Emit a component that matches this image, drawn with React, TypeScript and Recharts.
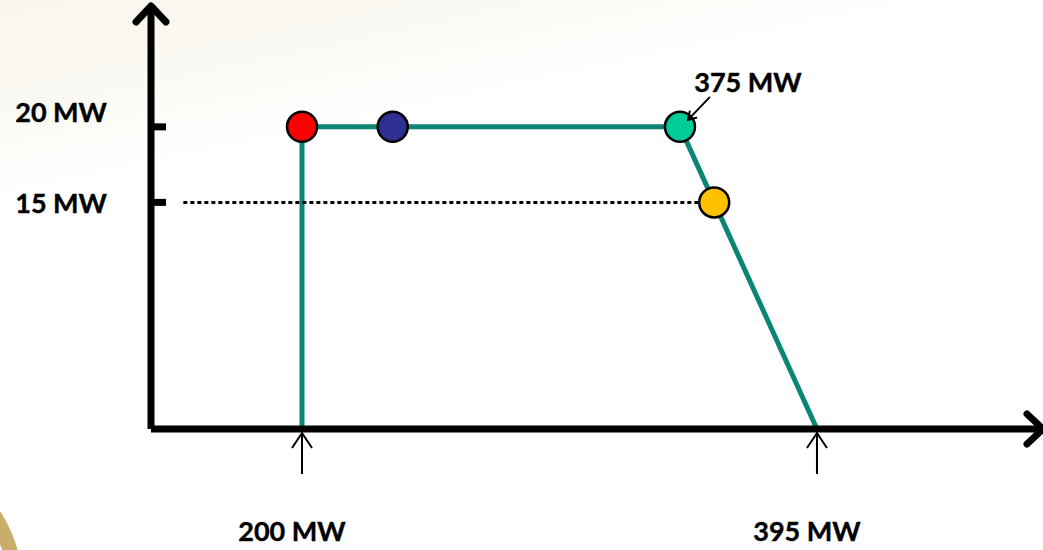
import React from 'react'
import {
  ComposedChart,
  Line,
  Scatter,
  Cell,
  XAxis,
  YAxis,
  ReferenceDot,
} from 'recharts'

// unit output (MW) vs. active power (MW)
const capabilityMW = [200, 200, 375, 395]
const capabilityP = [0, 20, 20, 0]

const reserveMW = [145, 380]
const reserveP = [15, 15]

const pointMW = [200, 242, 375, 380]
const pointP = [20, 20, 20, 15]
const pointColors = ['#ff0000', '#2e3092', '#00cc99', '#ffc000']

const xTicks = [200, 395]
const xTickLabels = ['200 MW', '395 MW']
const yTicks = [15, 20]
const yTickLabels = ['15 MW', '20 MW']

const calloutMW = 375
const calloutP = 20
const calloutText = '375 MW'

const GREEN = '#0b8574'
const FONT = 'Lato, "Open Sans", sans-serif'

const capability = capabilityMW.map((mw, i) => ({ mw, p: capabilityP[i] }))
const reserve = reserveMW.map((mw, i) => ({ mw, p: reserveP[i] }))
const points = pointMW.map((mw, i) => ({ mw, p: pointP[i] }))

// The diagram is not drawn to scale: the MW axis is stretched piecewise
// between its break values so the ramp-down segment stays readable.
const xBreaks = [130, 200, 375, 395, 428]
const xStops = [0, 0.1693, 0.593, 0.7466, 1]

function schematicScale(): any {
  let dom = [xBreaks[0], xBreaks[xBreaks.length - 1]]
  let rng = [0, 1]
  const s: any = (v: number) => {
    let i = 0
    while (i < xBreaks.length - 2 && v > xBreaks[i + 1]) i++
    const t = (v - xBreaks[i]) / (xBreaks[i + 1] - xBreaks[i])
    const f = xStops[i] + t * (xStops[i + 1] - xStops[i])
    return rng[0] + f * (rng[1] - rng[0])
  }
  s.domain = (d?: number[]) => {
    if (!d) return dom.slice()
    dom = [...d]
    return s
  }
  s.range = (r?: number[]) => {
    if (!r) return rng.slice()
    rng = [...r]
    return s
  }
  s.invert = (px: number) => {
    const f = (px - rng[0]) / (rng[1] - rng[0])
    let i = 0
    while (i < xStops.length - 2 && f > xStops[i + 1]) i++
    const t = (f - xStops[i]) / (xStops[i + 1] - xStops[i])
    return xBreaks[i] + t * (xBreaks[i + 1] - xBreaks[i])
  }
  s.ticks = () => xBreaks.slice(1, -1)
  s.tickFormat = () => (v: number) => String(v)
  s.nice = () => s
  s.clamp = () => s
  s.copy = () => schematicScale().domain(dom).range(rng)
  return s
}

const labelStyle = {
  fontFamily: FONT,
  fontWeight: 700,
  fontSize: 27,
  fill: '#000',
  stroke: '#000',
  strokeWidth: 0.4,
}

const YTick = ({ x, y, payload }: any) => {
  const i = yTicks.indexOf(payload.value)
  const dy = payload.value === 20 ? -15 : 0
  return (
    <g>
      <line x1={x} x2={x + 15} y1={y} y2={y} stroke="#000" strokeWidth={7} />
      <text x={x - 44} y={y + dy} textAnchor="end" dominantBaseline="central" style={labelStyle}>
        {yTickLabels[i]}
      </text>
    </g>
  )
}

const XTick = ({ x, y, payload }: any) => {
  const i = xTicks.indexOf(payload.value)
  return (
    <g>
      <line x1={x} x2={x} y1={y + 45} y2={y + 5} stroke="#000" strokeWidth={2} />
      <polyline
        points={`${x - 10},${y + 19} ${x},${y + 4} ${x + 10},${y + 19}`}
        fill="none"
        stroke="#000"
        strokeWidth={2}
      />
      <text x={x - 10} y={y + 101} textAnchor="middle" dominantBaseline="central" style={labelStyle}>
        {xTickLabels[i]}
      </text>
    </g>
  )
}

const Callout = ({ viewBox }: any) => {
  const cx = viewBox.x + viewBox.width / 2
  const cy = viewBox.y + viewBox.height / 2
  return (
    <g>
      <line
        x1={cx + 30}
        y1={cy - 30}
        x2={cx + 8}
        y2={cy - 7}
        stroke="#000"
        strokeWidth={2}
        markerEnd="url(#tipSmall)"
      />
      <text x={cx + 68} y={cy - 45} textAnchor="middle" dominantBaseline="central" style={labelStyle}>
        {calloutText}
      </text>
    </g>
  )
}

const Dot = (props: any) => (
  <circle cx={props.cx} cy={props.cy} r={15} fill={props.fill} stroke="#000" strokeWidth={2.5} />
)

export default function App() {
  return (
    <div
      style={{
        position: 'absolute',
        left: 0,
        top: 0,
        width: 1043,
        height: 550,
        overflow: 'hidden',
        background:
          'linear-gradient(168deg, #f9f6ee 0%, #fbf9f3 14%, #ffffff 26%, #ffffff 100%)',
      }}
    >
      <div
        style={{
          position: 'absolute',
          left: -242,
          top: 452,
          width: 264,
          height: 264,
          borderRadius: '50%',
          border: '15px solid #c9ae6b',
          boxSizing: 'border-box',
        }}
      />
      <ComposedChart
        width={1043}
        height={550}
        margin={{ top: 6, right: 0, bottom: 0, left: 91 }}
        style={{ position: 'absolute', left: 0, top: 0 }}
      >
        <defs>
          <marker
            id="chevron"
            markerUnits="userSpaceOnUse"
            orient="auto-start-reverse"
            viewBox="-24 -20 30 40"
            refX={0}
            refY={0}
            markerWidth={30}
            markerHeight={40}
          >
            <polyline
              points="-16,-15 0,0 -16,15"
              fill="none"
              stroke="#000"
              strokeWidth={7}
              strokeLinecap="round"
              strokeLinejoin="round"
            />
          </marker>
          <marker
            id="tipSmall"
            markerUnits="userSpaceOnUse"
            orient="auto"
            viewBox="-12 -8 14 16"
            refX={0}
            refY={0}
            markerWidth={14}
            markerHeight={16}
          >
            <polyline points="-8,-5 0,0 -8,5" fill="none" stroke="#000" strokeWidth={2} />
          </marker>
        </defs>
        <XAxis
          type="number"
          dataKey="mw"
          scale={schematicScale()}
          domain={[xBreaks[0], xBreaks[xBreaks.length - 1]]}
          ticks={xTicks}
          allowDataOverflow
          height={121}
          tickSize={0}
          tickMargin={0}
          tickLine={false}
          tick={<XTick />}
          axisLine={{ stroke: '#000', strokeWidth: 7, markerEnd: 'url(#chevron)' }}
          interval={0}
        />
        <YAxis
          type="number"
          dataKey="p"
          domain={[0, 28]}
          ticks={yTicks}
          allowDataOverflow
          width={60}
          tickSize={0}
          tickMargin={0}
          tickLine={false}
          tick={<YTick />}
          axisLine={{ stroke: '#000', strokeWidth: 7, markerStart: 'url(#chevron)' }}
          interval={0}
        />
        <Line
          data={capability}
          dataKey="p"
          type="linear"
          stroke={GREEN}
          strokeWidth={5}
          dot={false}
          activeDot={false}
          isAnimationActive={false}
        />
        <Line
          data={reserve}
          dataKey="p"
          type="linear"
          stroke="#000"
          strokeWidth={3}
          strokeDasharray="4 3"
          dot={false}
          activeDot={false}
          isAnimationActive={false}
        />
        <Scatter data={points} dataKey="p" shape={<Dot />} isAnimationActive={false}>
          {points.map((_, i) => (
            <Cell key={i} fill={pointColors[i]} />
          ))}
        </Scatter>
        <ReferenceDot x={calloutMW} y={calloutP} r={0} stroke="none" label={<Callout />} />
      </ComposedChart>
    </div>
  )
}
